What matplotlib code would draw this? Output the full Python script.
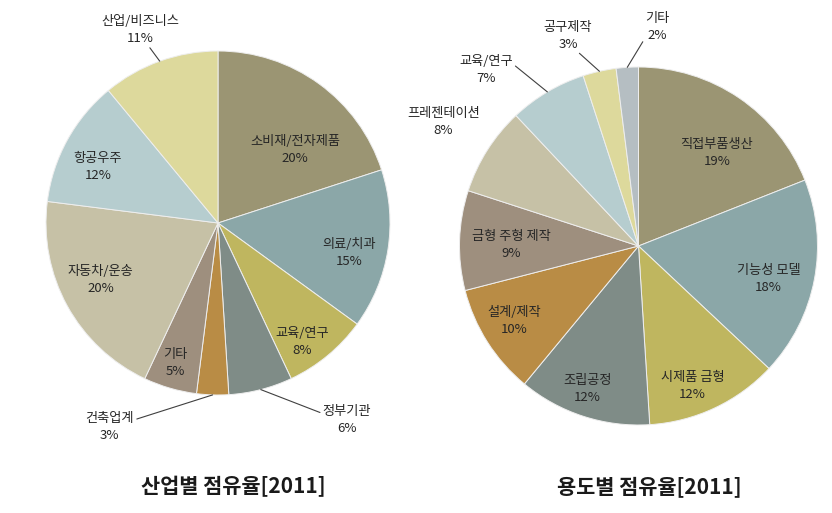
import matplotlib
matplotlib.use('Agg')
import matplotlib.pyplot as plt
import numpy as np

plt.rcParams['font.family'] = ['Noto Sans CJK KR', 'DejaVu Sans']

# ---- data ----
industry_labels = ['소비재/전자제품', '의료/치과', '교육/연구', '정부기관', '건축업계',
                   '기타', '자동차/운송', '항공우주', '산업/비즈니스']
industry_values = [20, 15, 8, 6, 3, 5, 20, 12, 11]

usage_labels = ['직접부품생산', '기능성 모델', '시제품 금형', '조립공정', '설계/제작',
                '금형 주형 제작', '프레젠테이션', '교육/연구', '공구제작', '기타']
usage_values = [19, 18, 12, 12, 10, 9, 8, 7, 3, 2]

titles = ['산업별 점유율[2011]', '용도별 점유율[2011]']

# ---- style ----
industry_colors = ['#9B9573', '#8BA7A8', '#BFB65F', '#7F8C87', '#B98C45',
                   '#9E8F7E', '#C6C1A6', '#B6CDCF', '#DDD99C']
usage_colors = ['#9B9573', '#8BA7A8', '#BFB65F', '#7F8C87', '#B98C45',
                '#9E8F7E', '#C6C1A6', '#B6CDCF', '#DDD99C', '#B5BEC2']

# label placement: (radial distance, angle offset deg, leader relpos or None)
industry_place = [(0.62, -10.5, None), (0.78, -3.9, None), (0.85, -4.4, None),
                  (1.37, 18.8, (0, 0.72)), (1.34, -26.2, (1, 0.72)),
                  (0.85, -0.8, None), (0.76, -2.8, None), (0.77, 3.8, None),
                  (1.21, 2.2, (0.6, 0))]
usage_place = [(0.68, -5.8, None), (0.75, -3.4, None), (0.84, -4.1, None),
               (0.85, -1.5, None), (0.81, -1.4, None), (0.71, 1.3, None),
               (1.29, 0.0, None), (1.30, 10.4, (1, 0.72)),
               (1.24, 5.9, (0.67, 0)), (1.23, -8.6, (0, 0.15))]

W, H = 832, 513
fig = plt.figure(figsize=(W / 100, H / 100), dpi=100)
fig.patch.set_facecolor('white')


def px_axes(cx, cy, r):
    return fig.add_axes([(cx - r) / W, (H - cy - r) / H, 2 * r / W, 2 * r / H])


def draw_pie(ax, labels, values, colors, place):
    wedges, _ = ax.pie(values, colors=colors, startangle=90, counterclock=False,
                       radius=1.0,
                       wedgeprops=dict(edgecolor='#eeeeee', linewidth=0.7))
    total = float(sum(values))
    for w, lab, v, (dist, off, rel) in zip(wedges, labels, values, place):
        mid = np.deg2rad((w.theta1 + w.theta2) / 2.0)
        ang = mid + np.deg2rad(off)
        tx, ty = dist * np.cos(ang), dist * np.sin(ang)
        txt = f'{lab}\n{round(v / total * 100):d}%'
        if rel is None:
            ax.text(tx, ty, txt, ha='center', va='center', fontsize=9.5,
                    color='#262626', linespacing=1.4)
        else:
            ex, ey = np.cos(mid), np.sin(mid)
            ax.annotate(txt, xy=(ex, ey), xytext=(tx, ty), ha='center', va='center',
                        fontsize=9.5, color='#262626', linespacing=1.4,
                        arrowprops=dict(arrowstyle='-', color='#404040', lw=0.8,
                                        relpos=rel, shrinkA=0, shrinkB=0))
    ax.set_xlim(-1, 1)
    ax.set_ylim(-1, 1)
    ax.axis('off')


ax1 = px_axes(218, 223, 172)
draw_pie(ax1, industry_labels, industry_values, industry_colors, industry_place)

ax2 = px_axes(638.5, 246, 179)
draw_pie(ax2, usage_labels, usage_values, usage_colors, usage_place)

fig.text(233 / W, (H - 487) / H, titles[0], ha='center', va='center',
         fontsize=15, fontweight='bold', color='#1a1a1a')
fig.text(649 / W, (H - 487) / H, titles[1], ha='center', va='center',
         fontsize=15, fontweight='bold', color='#1a1a1a')

fig.savefig('out.png', dpi=100, facecolor='white')
